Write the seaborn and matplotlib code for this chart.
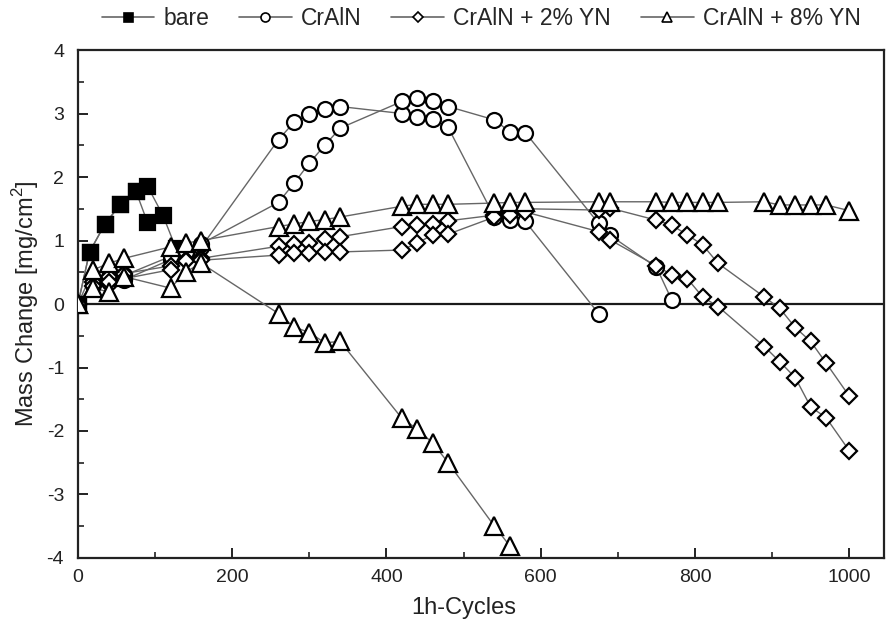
import numpy as np
import pandas as pd
import matplotlib
matplotlib.use("Agg")
import matplotlib.pyplot as plt
from matplotlib.lines import Line2D
from matplotlib.ticker import MultipleLocator
import seaborn as sns

# ---------------- data ----------------
bare1_x = [0, 15, 35, 55, 75, 90]
bare1_y = [0, 0.82, 1.26, 1.57, 1.78, 1.29]
bare2_x = [0, 15, 35, 55, 75, 90, 110, 127]
bare2_y = [0, 0.82, 1.26, 1.57, 1.78, 1.86, 1.40, 0.88]

cr1_x = [0, 20, 40, 60, 120, 140, 160, 260, 280, 300, 320, 340, 420, 440, 460, 480, 540, 560, 580, 675]
cr1_y = [0, 0.30, 0.35, 0.38, 0.70, 0.78, 0.90, 2.59, 2.86, 2.99, 3.07, 3.11, 3.00, 2.94, 2.91, 2.78, 1.37, 1.32, 1.30, -0.15]
cr2_x = [0, 20, 40, 60, 120, 140, 160, 260, 280, 300, 320, 340, 420, 440, 460, 480, 540, 560, 580, 675, 690, 750, 770]
cr2_y = [0, 0.35, 0.42, 0.45, 0.75, 0.82, 0.95, 1.60, 1.90, 2.22, 2.50, 2.77, 3.19, 3.24, 3.19, 3.11, 2.90, 2.71, 2.70, 1.27, 1.08, 0.58, 0.06]

yn2a_x = [0, 20, 40, 60, 120, 140, 160, 260, 280, 300, 320, 340, 420, 440, 460, 480, 540, 560, 580,
          675, 690, 750, 770, 790, 810, 830, 890, 910, 930, 950, 970, 1000]
yn2a_y = [0, 0.35, 0.42, 0.48, 0.60, 0.70, 0.72, 0.91, 0.95, 0.96, 1.02, 1.06, 1.22, 1.24, 1.26, 1.31, 1.40, 1.45, 1.50,
          1.48, 1.51, 1.32, 1.24, 1.09, 0.93, 0.64, 0.11, -0.07, -0.37, -0.59, -0.93, -1.45]
yn2b_x = yn2a_x
yn2b_y = [0, 0.28, 0.35, 0.40, 0.54, 0.67, 0.69, 0.77, 0.80, 0.80, 0.82, 0.82, 0.85, 0.96, 1.09, 1.10, 1.37, 1.40, 1.45,
          1.14, 1.01, 0.60, 0.46, 0.40, 0.11, -0.04, -0.67, -0.91, -1.16, -1.62, -1.79, -2.31]

yn8a_x = yn2a_x
yn8a_y = [0, 0.54, 0.64, 0.72, 0.90, 0.96, 1.00, 1.22, 1.26, 1.30, 1.33, 1.37, 1.54, 1.57, 1.57, 1.57, 1.59, 1.60, 1.60,
          1.61, 1.61, 1.61, 1.60, 1.60, 1.60, 1.60, 1.61, 1.56, 1.56, 1.56, 1.56, 1.47]
yn8b_x = [0, 20, 40, 60, 120, 140, 160, 260, 280, 300, 320, 340, 420, 440, 460, 480, 540, 560]
yn8b_y = [0, 0.25, 0.19, 0.43, 0.25, 0.51, 0.64, -0.15, -0.36, -0.45, -0.61, -0.59, -1.80, -1.97, -2.19, -2.50, -3.50, -3.81]

labels = ["bare", "CrAlN", "CrAlN + 2% YN", "CrAlN + 8% YN"]
series = {
    "bare": [(bare1_x, bare1_y), (bare2_x, bare2_y)],
    "CrAlN": [(cr1_x, cr1_y), (cr2_x, cr2_y)],
    "CrAlN + 2% YN": [(yn2a_x, yn2a_y), (yn2b_x, yn2b_y)],
    "CrAlN + 8% YN": [(yn8a_x, yn8a_y), (yn8b_x, yn8b_y)],
}

rows = []
for lab in labels:
    for i, (xs, ys) in enumerate(series[lab]):
        for x, y in zip(xs, ys):
            rows.append({"coating": lab, "sample": i, "cycles": x, "mass": y})
df = pd.DataFrame(rows)

# ---------------- style ----------------
sns.set_theme(style="ticks")
plt.rcParams["font.family"] = ["Liberation Sans", "DejaVu Sans"]
plt.rcParams["mathtext.fontset"] = "custom"
plt.rcParams["mathtext.rm"] = "Liberation Sans"
plt.rcParams["axes.unicode_minus"] = False

marker_style = {
    "bare": dict(marker="s", markersize=10.8, markerfacecolor="black"),
    "CrAlN": dict(marker="o", markersize=10.8, markerfacecolor="white"),
    "CrAlN + 2% YN": dict(marker="D", markersize=8.0, markerfacecolor="white"),
    "CrAlN + 8% YN": dict(marker="^", markersize=12.5, markerfacecolor="white"),
}
LINE = "#666666"
EDGE = "black"

fig = plt.figure(figsize=(8.86, 6.30), dpi=100)
ax = fig.add_axes([0.088, 0.1143, 0.9097, 0.8063])

# lines first
for lab in labels:
    sub = df[df.coating == lab]
    for s, g in sub.groupby("sample"):
        sns.lineplot(data=g, x="cycles", y="mass", sort=False, estimator=None,
                     color=LINE, lw=1.0, ax=ax, zorder=2, legend=False)

ax.axhline(0, color="#1a1a1a", lw=1.6, zorder=1.5)

# markers
z = 3
for lab in labels:
    sub = df[df.coating == lab]
    for s, g in sub.groupby("sample"):
        sns.lineplot(data=g, x="cycles", y="mass", sort=False, estimator=None,
                     color=LINE, lw=0, markeredgecolor=EDGE, markeredgewidth=1.6,
                     ax=ax, zorder=z, legend=False, **marker_style[lab])
    z += 1

ax.set_xlim(0, 1045)
ax.set_ylim(-4, 4)
ax.xaxis.set_major_locator(MultipleLocator(200))
ax.xaxis.set_minor_locator(MultipleLocator(100))
ax.yaxis.set_major_locator(MultipleLocator(1))
ax.yaxis.set_minor_locator(MultipleLocator(0.5))
ax.tick_params(axis="both", which="major", direction="in", length=7, width=1.4,
               labelsize=14, colors="#222222", pad=8)
ax.tick_params(axis="both", which="minor", direction="in", length=4, width=1.2, colors="#222222")
ax.tick_params(axis="y", which="major", pad=10)
for sp in ax.spines.values():
    sp.set_visible(True)
    sp.set_linewidth(1.6)
    sp.set_color("#222222")

ax.set_xlabel("1h-Cycles", fontsize=17, color="#222222", labelpad=7)
ax.xaxis.set_label_coords(500 / 1045, -0.077)
ax.set_ylabel("Mass Change [mg/cm$^2$]", fontsize=17, color="#222222", labelpad=4)

handles = []
for lab in labels:
    st = marker_style[lab]
    handles.append(Line2D([0], [0], color=LINE, lw=1.2, marker=st["marker"],
                          markersize=st["markersize"] * 0.6,
                          markerfacecolor=st["markerfacecolor"], markeredgecolor=EDGE,
                          markeredgewidth=1.2))
fig.legend(handles, labels, loc="center", bbox_to_anchor=(0.543, 0.971), ncol=4,
           frameon=False, fontsize=16.5, handlelength=2.3, handletextpad=0.4,
           columnspacing=1.3)

fig.savefig("out.png", dpi=100)
